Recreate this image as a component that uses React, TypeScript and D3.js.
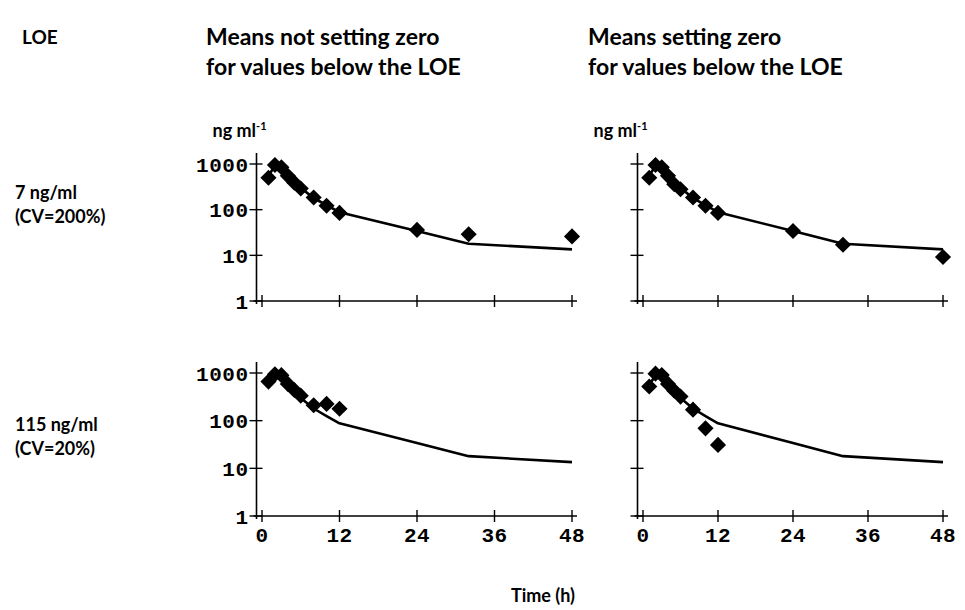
import { useEffect, useRef } from 'react';
import * as d3 from 'd3';

// sampling times (h)
const sampleTimes = [1, 2, 3, 4, 5, 6, 8, 10, 12, 24, 32, 48];
const shortTimes = [1, 2, 3, 4, 5, 6, 8, 10, 12];

// means (ng/ml)
const loe7NotZero = [500, 950, 850, 550, 390, 290, 185, 122, 85, 36, 29, 26];
const loe7Zero = [500, 950, 850, 550, 360, 280, 185, 122, 85, 34, 17, 9.2];
const loe115NotZero = [660, 940, 900, 590, 440, 335, 210, 225, 178];
const loe115Zero = [520, 970, 910, 590, 425, 320, 170, 69, 31];

// model curve
const modelTimes = [1, 2, 3, 4, 5, 6, 8, 10, 12, 24, 32, 48];
const modelConc = [560, 900, 820, 560, 400, 300, 180, 125, 88, 34, 18, 13.5];

const xTicks = [0, 12, 24, 36, 48];
const yTicks = [1, 10, 100, 1000];

const columnTitles = [
    ['Means not setting zero', 'for values below the LOE'],
    ['Means setting zero', 'for values below the LOE'],
];
const rowLabels = [
    ['7 ng/ml', '(CV=200%)'],
    ['115 ng/ml', '(CV=20%)'],
];

const WIDTH = 965;
const HEIGHT = 610;

const headFont = 'Lato, "Open Sans", sans-serif';
const monoFont = '"Liberation Mono", "DejaVu Sans Mono", monospace';

const App = () => {
    const svgRef = useRef<SVGSVGElement>(null);

    useEffect(() => {
        const svg = d3.select(svgRef.current);
        svg.selectAll('*').remove();

        const panels = [
            { times: sampleTimes, values: loe7NotZero, x: [262, 572], y: [301, 164], left: true, bottom: false },
            { times: sampleTimes, values: loe7Zero, x: [643, 943], y: [301, 164], left: false, bottom: false },
            { times: shortTimes, values: loe115NotZero, x: [262, 572], y: [516, 373], left: true, bottom: true },
            { times: shortTimes, values: loe115Zero, x: [643, 943], y: [516, 373], left: false, bottom: true },
        ];

        const diamond = d3.symbol().type(d3.symbolSquare).size(130);

        panels.forEach((p) => {
            const x = d3.scaleLinear().domain([0, 48]).range(p.x);
            const y = d3.scaleLog().domain([1, 1000]).range(p.y);
            const g = svg.append('g');
            const axisX = x(0) - 5.5;

            // y axis
            g.append('line')
                .attr('x1', axisX)
                .attr('x2', axisX)
                .attr('y1', y(1000) - 11)
                .attr('y2', y(1) + 3)
                .attr('stroke', '#000')
                .attr('stroke-width', 1.6);
            yTicks.forEach((t) => {
                g.append('line')
                    .attr('x1', axisX - 7)
                    .attr('x2', axisX + 6)
                    .attr('y1', y(t))
                    .attr('y2', y(t))
                    .attr('stroke', '#000')
                    .attr('stroke-width', 1.4);
                if (p.left) {
                    g.append('text')
                        .attr('x', axisX - 8)
                        .attr('y', y(t))
                        .attr('dy', '0.36em')
                        .attr('text-anchor', 'end')
                        .attr('font-family', monoFont)
                        .attr('font-size', 21)
                        .attr('font-weight', 'bold')
                        .attr('letter-spacing', 0.5)
                        .text(t);
                }
            });

            // x axis
            g.append('line')
                .attr('x1', axisX - 3)
                .attr('x2', x(48) + 5)
                .attr('y1', y(1))
                .attr('y2', y(1))
                .attr('stroke', '#000')
                .attr('stroke-width', 1.6);
            xTicks.forEach((t) => {
                g.append('line')
                    .attr('x1', x(t))
                    .attr('x2', x(t))
                    .attr('y1', y(1) - 6)
                    .attr('y2', y(1) + 6)
                    .attr('stroke', '#000')
                    .attr('stroke-width', 1.4);
                if (p.bottom) {
                    g.append('text')
                        .attr('x', x(t))
                        .attr('y', y(1) + 26)
                        .attr('text-anchor', 'middle')
                        .attr('font-family', monoFont)
                        .attr('font-size', 21)
                        .attr('font-weight', 'bold')
                        .attr('letter-spacing', 0.5)
                        .text(t);
                }
            });

            // model line
            const line = d3
                .line<number>()
                .x((_, i) => x(modelTimes[i]))
                .y((d) => y(d));
            g.append('path')
                .datum(modelConc)
                .attr('fill', 'none')
                .attr('stroke', '#000')
                .attr('stroke-width', 2.6)
                .attr('stroke-linejoin', 'round')
                .attr('d', line);

            // observed means
            g.selectAll('.dot')
                .data(p.values)
                .enter()
                .append('path')
                .attr('class', 'dot')
                .attr('d', diamond)
                .attr('transform', (d, i) => `translate(${x(p.times[i])},${y(d)}) rotate(45)`)
                .attr('fill', '#000');

            // unit label
            if (!p.bottom) {
                const unit = g
                    .append('text')
                    .attr('x', axisX - 44)
                    .attr('y', y(1000) - 27)
                    .attr('font-family', headFont)
                    .attr('font-size', 18)
                    .attr('font-weight', 'bold');
                unit.append('tspan').text('ng ml');
                unit.append('tspan').attr('font-size', 11).attr('dy', -7).text('-1');
            }
        });

        // column titles
        [206, 588].forEach((cx, ci) => {
            columnTitles[ci].forEach((s, li) => {
                svg.append('text')
                    .attr('x', cx)
                    .attr('y', 45 + li * 30)
                    .attr('font-family', headFont)
                    .attr('font-size', 23)
                    .attr('font-weight', 'bold')
                    .text(s);
            });
        });

        svg.append('text')
            .attr('x', 22)
            .attr('y', 44)
            .attr('font-family', headFont)
            .attr('font-size', 19)
            .attr('font-weight', 'bold')
            .text('LOE');

        // row labels
        [199, 431].forEach((ry, ri) => {
            rowLabels[ri].forEach((s, li) => {
                svg.append('text')
                    .attr('x', 15)
                    .attr('y', ry + li * 24)
                    .attr('font-family', headFont)
                    .attr('font-size', 18)
                    .attr('font-weight', 'bold')
                    .text(s);
            });
        });

        // x-axis title
        svg.append('text')
            .attr('x', 543)
            .attr('y', 602)
            .attr('text-anchor', 'middle')
            .attr('font-family', headFont)
            .attr('font-size', 18)
            .attr('font-weight', 'bold')
            .text('Time (h)');
    }, []);

    return (
        <svg
            ref={svgRef}
            width={WIDTH}
            height={HEIGHT}
            style={{ position: 'absolute', left: 0, top: 0, background: '#fff' }}
        ></svg>
    );
};

export default App;
